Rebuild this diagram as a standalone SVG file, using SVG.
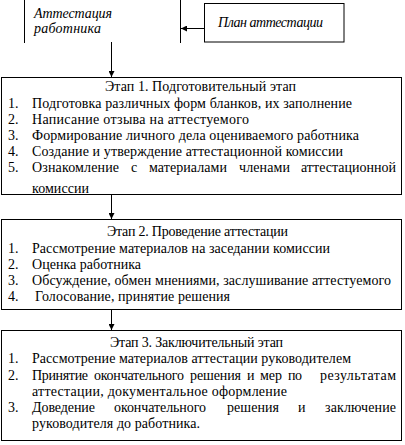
<svg xmlns="http://www.w3.org/2000/svg" width="405" height="445" viewBox="0 0 405 445" font-family="'Liberation Serif', 'Times New Roman', Times, serif">
<style>
text{fill:#000}
.t{font-size:14px}
.i{font-size:14px;font-style:italic}
.box{fill:#fff;stroke:#000;stroke-width:1}
.ln{fill:none;stroke:#000;stroke-width:1}
</style>
<defs>
<marker id="ah" viewBox="0 0 10 10" refX="10" refY="5" markerWidth="6" markerHeight="6" markerUnits="userSpaceOnUse" orient="auto">
<path d="M0,0 L10,5 L0,10 z" fill="#000"/>
</marker>
<clipPath id="c1"><rect x="2" y="78" width="399" height="116"/></clipPath>
</defs>
<rect width="405" height="445" fill="#fff"/>

<g id="attestation">
<line class="ln" x1="24.5" y1="0" x2="24.5" y2="43"/>
<line class="ln" x1="180.5" y1="0" x2="180.5" y2="43"/>
<text class="i" x="34" y="18" textLength="78" lengthAdjust="spacing">Аттестация</text>
<text class="i" x="34" y="33" textLength="67" lengthAdjust="spacing">работника</text>
</g>

<g id="plan">
<rect class="box" x="204.5" y="3.5" width="139.5" height="38.5"/>
<text class="i" x="218" y="27" textLength="105" lengthAdjust="spacing">План аттестации</text>
</g>

<g id="stage1">
<rect class="box" x="1.5" y="77.5" width="400" height="117"/>
<g clip-path="url(#c1)">
<text class="t" x="105" y="91" textLength="191" lengthAdjust="spacing">Этап 1. Подготовительный этап</text>
<text class="t" x="8" y="107.5">1.</text>
<text class="t" x="32" y="107.5" textLength="320" lengthAdjust="spacing">Подготовка различных форм бланков, их заполнение</text>
<text class="t" x="8" y="123.5">2.</text>
<text class="t" x="32" y="123.5" textLength="217" lengthAdjust="spacing">Написание отзыва на аттестуемого</text>
<text class="t" x="8" y="140">3.</text>
<text class="t" x="32" y="140" textLength="327" lengthAdjust="spacing">Формирование личного дела оцениваемого работника</text>
<text class="t" x="8" y="156">4.</text>
<text class="t" x="32" y="156" textLength="311" lengthAdjust="spacing">Создание и утверждение аттестационной комиссии</text>
<text class="t" x="8" y="172">5.</text>
<text class="t" x="32" y="172" textLength="87" lengthAdjust="spacing">Ознакомление</text>
<text class="t" x="131" y="172" textLength="6" lengthAdjust="spacing">с</text>
<text class="t" x="149" y="172" textLength="78" lengthAdjust="spacing">материалами</text>
<text class="t" x="239" y="172" textLength="51" lengthAdjust="spacing">членами</text>
<text class="t" x="301" y="172" textLength="95" lengthAdjust="spacing">аттестационной</text>
<text class="t" x="32" y="193" textLength="57" lengthAdjust="spacing">комиссии</text>
</g>
</g>

<g id="stage2">
<rect class="box" x="1.5" y="219.5" width="400" height="90"/>
<text class="t" x="107" y="236" textLength="181" lengthAdjust="spacing">Этап 2. Проведение аттестации</text>
<text class="t" x="8" y="252.5">1.</text>
<text class="t" x="32" y="252.5" textLength="298" lengthAdjust="spacing">Рассмотрение материалов на заседании комиссии</text>
<text class="t" x="8" y="268.5">2.</text>
<text class="t" x="32" y="268.5" textLength="109" lengthAdjust="spacing">Оценка работника</text>
<text class="t" x="8" y="284.5">3.</text>
<text class="t" x="32" y="284.5" textLength="359" lengthAdjust="spacing">Обсуждение, обмен мнениями, заслушивание аттестуемого</text>
<text class="t" x="8" y="300.5">4.</text>
<text class="t" x="35" y="300.5" textLength="195" lengthAdjust="spacing">Голосование, принятие решения</text>
</g>

<g id="stage3">
<rect class="box" x="1.5" y="330.5" width="400" height="110"/>
<text class="t" x="110" y="347" textLength="173" lengthAdjust="spacing">Этап 3. Заключительный этап</text>
<text class="t" x="8" y="363">1.</text>
<text class="t" x="32" y="363" textLength="319" lengthAdjust="spacing">Рассмотрение материалов аттестации руководителем</text>
<text class="t" x="8" y="379.5">2.</text>
<text class="t" x="32" y="379.5" textLength="56" lengthAdjust="spacing">Принятие</text>
<text class="t" x="94" y="379.5" textLength="90" lengthAdjust="spacing">окончательного</text>
<text class="t" x="190" y="379.5" textLength="51" lengthAdjust="spacing">решения</text>
<text class="t" x="247" y="379.5" textLength="7" lengthAdjust="spacing">и</text>
<text class="t" x="260" y="379.5" textLength="22" lengthAdjust="spacing">мер</text>
<text class="t" x="288" y="379.5" textLength="14" lengthAdjust="spacing">по</text>
<text class="t" x="320" y="379.5" textLength="76" lengthAdjust="spacing">результатам</text>
<text class="t" x="32" y="395.5" textLength="255" lengthAdjust="spacing">аттестации, документальное оформление</text>
<text class="t" x="8" y="411.5">3.</text>
<text class="t" x="32" y="411.5" textLength="63" lengthAdjust="spacing">Доведение</text>
<text class="t" x="114" y="411.5" textLength="92" lengthAdjust="spacing">окончательного</text>
<text class="t" x="227" y="411.5" textLength="52" lengthAdjust="spacing">решения</text>
<text class="t" x="298" y="411.5" textLength="7" lengthAdjust="spacing">и</text>
<text class="t" x="325" y="411.5" textLength="71" lengthAdjust="spacing">заключение</text>
<text class="t" x="32" y="427.5" textLength="168" lengthAdjust="spacing">руководителя до работника.</text>
</g>

<g id="connectors">
<line class="ln" x1="204" y1="28.5" x2="181" y2="28.5" marker-end="url(#ah)"/>
<line class="ln" x1="111.5" y1="42" x2="111.5" y2="77" marker-end="url(#ah)"/>
<line class="ln" x1="111.5" y1="195" x2="111.5" y2="219" marker-end="url(#ah)"/>
<line class="ln" x1="111.5" y1="310" x2="111.5" y2="330" marker-end="url(#ah)"/>
</g>
</svg>
